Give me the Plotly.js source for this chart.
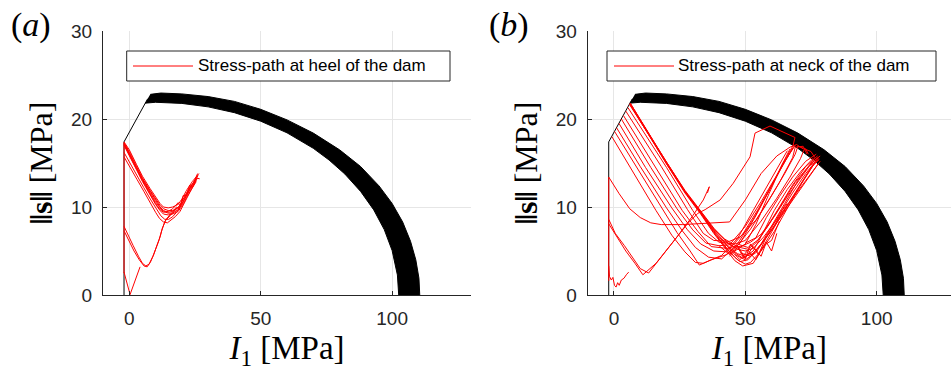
<!DOCTYPE html>
<html>
<head>
<meta charset="utf-8">
<script src="https://cdn.plot.ly/plotly-3.0.1.min.js"></script>
<style>
  html, body { margin: 0; padding: 0; background: #fff; }
  #chart { width: 951px; height: 376px; }
</style>
</head>
<body>
<div id="chart"></div>
<script>
// ---- Yield surface family (cap band) ----
const capInnerX = [6.0, 10, 20, 30, 40, 50, 60, 70, 76, 82, 88, 93, 97, 100, 102, 102.5];
const capInnerY = [21.8, 21.9, 21.77, 21.38, 20.72, 19.75, 18.43, 16.67, 15.34, 13.75, 11.77, 9.67, 7.43, 5.05, 2.28, 0];
const capOuterX = [8.0, 12, 20, 30, 40, 50, 60, 70, 80, 88, 95, 100, 104, 107, 109, 110.2, 110.5];
const capOuterY = [22.8, 22.95, 22.85, 22.55, 22.0, 21.1, 19.9, 18.4, 16.5, 14.6, 12.4, 10.4, 8.3, 6.1, 4.0, 1.9, 0];

// tension cut-off and cone segment
const coneX = [-2, -2, 7.0];
const coneY = [0, 17.4, 22.3];

// ---- Stress path at the heel (segments separated by null) ----
const heelX = [
  -2, -2, null,
  -2, 0.3, 4.1, null,
  -2, -0.2, 1.5, 3.5, 5.0, 6.3, 7.5, 9, 10.2, 11.4, 12.3, 13.6, 15.5, 18, null,
  -2, -0.2, 1.8, 3.8, 5.6, 6.8, 8.0, 9.3, 10.6, 11.8, 12.6, 14, 16, 19, null,
  -2, 0, 3, 5.5, 8, 10, 11.5, 13, 14.5, 16, 17.5, 19.3, 21, 22, 24, 25.5, null,
  -2, 0, 3, 5.5, 8, 10, 12, 13.5, 15, 16.5, 18, 20, 22, 24, 26, null,
  -2, 0, 2.8, 5, 7.9, 10, 11.7, 13, 14.8, 16.5, 18.6, 20, 21.8, 24, 26.2, null,
  -2, 0, 2.8, 5, 7.9, 10, 11.7, 13, 14.8, 16.5, 18.6, 20, 21.8, 24, 26, null,
  -2, 0, 2.8, 5, 7.9, 10, 11.7, 13, 14.8, 16.5, 18.6, 20, 21.8, 24, 26.5, null,
  -2, 0, 2.8, 5, 7.9, 10, 11.7, 13, 14.8, 16.5, 18.6, 19.5, 20.5, 21.8, 23, 24, 25.5, 26.8, null,
  -2, 0, 2.8, 5, 7.9, 10, 11.7, 13, 14.8, 16.5, 18, 19, 20, 21, 22.5, 24.5, 26, null,
  -2, 0, 2.8, 5, 7.9, 10, 11.7, 13, 14.8, 16.5, 18.6, 20, 21.8, 24, 25.5
];
const heelY = [
  2.5, 17.3, null,
  2.6, 0.05, 3.2, null,
  7.8, 6.6, 5.6, 4.4, 3.6, 3.3, 3.5, 4.4, 5.3, 6.3, 7.3, 8.4, 9.0, 9.8, null,
  7.3, 6.2, 5.0, 4.0, 3.3, 3.2, 3.7, 4.6, 5.6, 6.7, 7.6, 8.6, 9.3, 10.1, null,
  15.7, 14.6, 13.1, 11.8, 10.4, 9.4, 8.7, 8.3, 8.2, 8.5, 8.9, 9.5, 10.5, 11.2, 12.3, 13.1, null,
  16.2, 15.1, 13.6, 12.2, 10.9, 9.9, 9.0, 8.6, 8.6, 8.9, 9.4, 10.3, 11.5, 12.6, 13.5, null,
  17.3, 16.3, 14.6, 13.3, 11.9, 10.9, 10.2, 9.8, 9.6, 9.6, 9.9, 10.6, 11.6, 12.6, 13.6, null,
  17.2, 16.1, 14.4, 13.1, 11.6, 10.6, 9.9, 9.5, 9.3, 9.3, 9.7, 10.4, 11.4, 12.4, 13.3, null,
  17.4, 16.5, 14.8, 13.5, 12.1, 11.1, 10.4, 10.0, 9.9, 10.0, 10.3, 10.9, 11.9, 12.9, 13.8, null,
  17.1, 16.0, 14.3, 13.0, 11.5, 10.4, 9.7, 9.4, 9.5, 9.8, 10.5, 10.0, 11.3, 11.3, 12.5, 12.2, 13.3, 13.2, null,
  17.3, 16.2, 14.5, 13.2, 11.8, 10.8, 10.0, 9.6, 9.4, 9.5, 10.0, 9.8, 10.8, 11.0, 12.0, 12.8, 13.8, null,
  17.0, 15.9, 14.2, 12.9, 11.4, 10.3, 9.6, 9.2, 9.1, 9.2, 9.5, 10.1, 11.1, 12.2, 12.9
];

// ---- Stress path at the neck: early low-stress cycles ----
const neckLowX = [
  -2, -2, null,
  -2, -1.7, -1.0, -0.4, 0.2, 0.8, 1.4, 2.0, 2.8, 3.8, 4.7, 5.6, null,
  -2, 2, 6, 10, 14, 18, 26, 34, 44, 50, 56, 62, 67, 69.5, 72, null,
  -2, 0.5, 4, 7.5, 10, 13.2, 18, 24, 30, 34, 36.3, 35.6, null,
  -2, 1, 4.5, 8, 11, 16, 22, 28, 32, 34.7, 40.4, 45.4, 51.8, 53.7, 59.4, 68.9, 68.2, 64, 59, 54, 50, 46
];
const neckLowY = [
  1.6, 13.4, null,
  3.3, 2.1, 1.7, 2.0, 1.1, 0.9, 1.4, 1.1, 1.7, 1.9, 2.3, 2.6, null,
  13.4, 11.5, 9.8, 8.8, 8.2, 8.0, 8.0, 8.1, 8.3, 10.8, 13.8, 15.8, 16.8, 17.1, 16.6, null,
  8.6, 7.0, 5.6, 4.1, 3.0, 2.5, 4.3, 6.6, 9.0, 10.8, 12.3, 11.6, null,
  8.1, 6.6, 5.0, 3.6, 2.3, 3.6, 5.8, 8.1, 9.3, 9.7, 10.8, 12.7, 15.7, 18.4, 19.2, 17.9, 17.0, 14.8, 11.5, 8.0, 5.8, 5.0
];

// ---- Stress path at the neck: cycles starting on the cone ----
const neckFanX = [
  5.3, 20, 30, 36, 40, 46, 50, 56, 62, 67, 71, 72.5, 75, 76.5, null,
  4.5, 18, 28, 34, 38, 44, 48, 54, 60, 65, 69, 70, 73, 74, null,
  3.6, 16, 26, 32, 37, 43, 47, 52, 58, 63, 68, 69, 72, 73.5, null,
  2.8, 14, 24, 30, 35, 40, 44, 50, 56, 62, 67, 68.5, null,
  1.9, 12, 22, 28, 33, 38, 43, 49, 55, 61, 66, 68, null,
  1.0, 10, 20, 26, 31, 36, 41, 47, 53, 59, 64, 67, null,
  0.2, 9, 18, 24, 29, 32.5, 37, 43, 48, 54, 60, 65, 69, null,
  -0.8, 8, 16, 22, 27, 31, 34, 41, 47, 53, 59, 63, 66
];
const neckFanY = [
  21.3, 14.5, 9.6, 7.0, 6.0, 5.8, 6.2, 8.4, 11.0, 13.4, 15.5, 16.6, 16.3, 15.6, null,
  20.9, 14.6, 9.7, 7.0, 6.2, 6.1, 6.6, 8.5, 11.3, 13.8, 16.0, 16.9, 16.6, 16.0, null,
  20.4, 14.4, 9.6, 7.2, 5.5, 5.3, 5.6, 7.5, 10.3, 12.8, 15.6, 16.8, 16.9, 16.0, null,
  20.0, 14.5, 9.8, 7.4, 5.9, 5.6, 5.7, 7.8, 10.6, 13.6, 16.0, 16.9, null,
  19.5, 14.5, 9.9, 7.4, 5.8, 5.0, 4.9, 6.9, 9.8, 13.0, 15.8, 16.7, null,
  19.0, 14.6, 9.9, 7.3, 5.4, 4.3, 4.1, 5.8, 8.6, 11.8, 14.8, 16.6, null,
  18.6, 14.3, 9.9, 7.1, 5.0, 3.4, 4.0, 4.6, 5.9, 9.0, 12.4, 15.2, 17.0, null,
  18.0, 13.6, 9.6, 6.8, 4.9, 3.7, 3.6, 4.5, 6.4, 9.6, 12.8, 14.8, 16.4
];

// ---- Stress path at the neck: repeated main cycles ----
const neckMainX = [
  6.2, 12, 20, 27, 33, 38, 43, 47, 50, 53, 57, 62, 67, 72, 76, 78.5, null,
  6.0, 12, 20, 27, 33, 38, 43, 47, 50, 53, 57, 62, 67, 72, 76, 78, null,
  6.1, 12, 20, 27, 33, 38, 42, 46, 49, 52, 56, 61, 66, 71, 75, 77.5, null,
  6.2, 12, 20, 27, 33, 38, 43, 46, 48, 51, 55, 60, 65, 70, 74, 77, null,
  6.1, 12, 20, 27, 33, 38, 43, 47, 50, 52, 56, 61, 66, 71, 75, 78, null,
  6.0, 12, 20, 27, 33, 38, 42, 45, 48, 51, 54, 58, 63, 68, 73, 77.5, null,
  6.1, 12, 20, 27, 33, 38, 43, 46, 49, 53, 57, 62, 67, 72, 76, 78.2, null,
  40, 44, 47, 50, 53, 56, 58, 60, 62, null,
  42, 45, 48, 51, 54, 57, 60, 63, null,
  44, 47, 50, 52, 55, 58, 61, 64, 66, null,
  46, 50, 54, 58, 63, 68, 73, 77.8, null,
  47, 51, 55, 59, 64, 69, 74, 77, null,
  48, 52, 56, 60, 65, 70, 75, 78.5, null,
  45, 49, 53, 57, 61, 66, 71, 76, null,
  50, 54, 58, 63, 68, 73, 77
];
const neckMainY = [
  21.8, 19.0, 15.1, 11.9, 9.5, 7.6, 6.0, 5.2, 5.0, 5.3, 6.6, 8.6, 10.7, 12.7, 14.3, 15.2, null,
  21.7, 18.8, 14.9, 11.7, 9.3, 7.3, 5.6, 4.7, 4.4, 4.7, 6.1, 8.2, 10.3, 12.4, 14.1, 15.0, null,
  21.7, 18.9, 15.0, 11.8, 9.4, 7.4, 6.1, 5.4, 5.6, 6.0, 6.9, 8.9, 11.2, 13.3, 14.9, 15.6, null,
  21.8, 18.9, 15.0, 11.8, 9.4, 7.2, 5.3, 4.3, 3.8, 4.0, 5.4, 7.4, 9.8, 12.2, 14.0, 15.3, null,
  21.8, 18.9, 15.0, 11.7, 9.3, 7.1, 5.2, 4.0, 3.5, 3.7, 5.0, 7.2, 9.8, 12.5, 14.4, 15.5, null,
  21.6, 18.8, 15.0, 11.8, 9.5, 7.5, 6.4, 5.8, 5.4, 5.2, 5.9, 7.6, 10.0, 12.5, 14.6, 15.8, null,
  21.7, 18.8, 14.9, 11.6, 9.2, 7.0, 5.0, 3.9, 3.3, 3.6, 5.6, 8.2, 10.6, 12.9, 14.8, 15.4, null,
  5.6, 4.6, 5.6, 4.2, 5.5, 4.4, 6.0, 5.0, 7.0, null,
  6.0, 4.9, 4.0, 5.1, 4.0, 5.6, 6.2, 8.4, null,
  4.4, 5.4, 4.1, 5.8, 4.6, 6.6, 7.8, 9.6, 10.4, null,
  4.6, 4.0, 4.8, 6.6, 9.2, 11.6, 13.8, 15.6, null,
  5.8, 5.4, 6.3, 8.0, 10.4, 12.8, 14.6, 15.2, null,
  4.8, 4.4, 5.8, 7.8, 10.4, 13.0, 15.0, 15.8, null,
  5.0, 4.2, 5.0, 7.2, 9.6, 12.0, 14.0, 15.6, null,
  5.9, 6.5, 8.8, 11.2, 13.4, 15.2, 16.0
];

const legendTextA = 'Stress-path at heel of the dam';
const legendTextB = 'Stress-path at neck of the dam';

const RED = 'rgb(255,0,0)';
const W = 951, H = 376;

function envelope(xa, ya) {
  return [
    { x: capInnerX, y: capInnerY, xaxis: xa, yaxis: ya, type: 'scatter', mode: 'lines',
      line: { color: '#000', width: 1 }, showlegend: false, hoverinfo: 'skip' },
    { x: capOuterX, y: capOuterY, xaxis: xa, yaxis: ya, type: 'scatter', mode: 'lines',
      line: { color: '#000', width: 1 }, fill: 'tonexty', fillcolor: '#000',
      showlegend: false, hoverinfo: 'skip' },
    { x: coneX, y: coneY, xaxis: xa, yaxis: ya, type: 'scatter', mode: 'lines',
      line: { color: '#000', width: 1 }, showlegend: false, hoverinfo: 'skip' }
  ];
}

function redPath(x, y, xa, ya, name) {
  return { x: x, y: y, xaxis: xa, yaxis: ya, type: 'scatter', mode: 'lines', name: name,
    connectgaps: false, line: { color: RED, width: 1 }, showlegend: false };
}

const data = [].concat(
  envelope('x', 'y'),
  [redPath(heelX, heelY, 'x', 'y', legendTextA)],
  envelope('x2', 'y2'),
  [redPath(neckLowX, neckLowY, 'x2', 'y2', legendTextB),
   redPath(neckFanX, neckFanY, 'x2', 'y2', legendTextB),
   redPath(neckMainX, neckMainY, 'x2', 'y2', legendTextB)]
);

const tickFont = { family: 'Liberation Sans, Arial, sans-serif', size: 19, color: '#262626' };
const serif = 'Liberation Serif, Times New Roman, serif';

function xAxis(domain, range, anchor) {
  return {
    domain: domain, range: range, anchor: anchor,
    tickvals: [0, 50, 100], ticktext: ['0', '50', '100'],
    ticks: 'inside', ticklen: 4, tickcolor: '#262626', tickwidth: 1,
    showline: true, linecolor: '#262626', linewidth: 1,
    showgrid: true, gridcolor: '#e6e6e6', gridwidth: 1, zeroline: false,
    tickfont: tickFont, ticklabelstandoff: 6,
    title: { text: '<i>I</i><sub>1</sub> [MPa]', font: { family: serif, size: 33, color: '#000' }, standoff: 8 }
  };
}
function yAxis(anchor) {
  const yDom = [1 - 295 / H, 1 - 31 / H];
  return {
    domain: yDom, range: [0, 30], anchor: anchor,
    tickvals: [0, 10, 20, 30], ticktext: ['0', '10', '20', '30'],
    ticks: 'inside', ticklen: 4, tickcolor: '#262626', tickwidth: 1,
    showline: true, linecolor: '#262626', linewidth: 1,
    showgrid: true, gridcolor: '#e6e6e6', gridwidth: 1, zeroline: false,
    tickfont: tickFont, ticklabelstandoff: 6,
    title: { text: '<b>‖s‖</b> [MPa]', font: { family: serif, size: 32, color: '#000' }, standoff: 8 }
  };
}

// legend boxes drawn in paper space
function legendBox(x0, x1, lx0, lx1, tx, text) {
  const yTop = 1 - 51 / H, yBot = 1 - 81 / H, yMid = 1 - 66 / H;
  return {
    shapes: [
      { type: 'rect', xref: 'paper', yref: 'paper', x0: x0 / W, x1: x1 / W, y0: yBot, y1: yTop,
        line: { color: '#262626', width: 1 }, fillcolor: '#fff' },
      { type: 'line', xref: 'paper', yref: 'paper', x0: lx0 / W, x1: lx1 / W, y0: yMid, y1: yMid,
        line: { color: RED, width: 1 } }
    ],
    annotation: { xref: 'paper', yref: 'paper', x: tx / W, y: yMid, xanchor: 'left', yanchor: 'middle',
      text: text, showarrow: false, font: { family: 'Liberation Sans, Arial, sans-serif', size: 17, color: '#000' } }
  };
}
const legA = legendBox(126.7, 450, 133, 193, 196, legendTextA);
const legB = legendBox(607, 936, 614, 674, 676, legendTextB);

const layout = {
  width: W, height: H,
  margin: { l: 0, r: 0, t: 0, b: 0 },
  paper_bgcolor: '#fff', plot_bgcolor: '#fff',
  showlegend: false,
  xaxis: xAxis([103 / W, 471 / W], [-10, 130], 'y'),
  yaxis: yAxis('x'),
  xaxis2: xAxis([587.7 / W, 1], [-10, 128.3], 'y2'),
  yaxis2: yAxis('x2'),
  shapes: legA.shapes.concat(legB.shapes),
  annotations: [
    legA.annotation, legB.annotation,
    { xref: 'paper', yref: 'paper', x: 9 / W, y: 1 - 25 / H, xanchor: 'left', yanchor: 'middle',
      text: '(<i>a</i>)', showarrow: false, font: { family: serif, size: 34, color: '#000' } },
    { xref: 'paper', yref: 'paper', x: 487 / W, y: 1 - 25 / H, xanchor: 'left', yanchor: 'middle',
      text: '(<i>b</i>)', showarrow: false, font: { family: serif, size: 34, color: '#000' } }
  ]
};

Plotly.newPlot('chart', data, layout, { displayModeBar: false, staticPlot: true });
</script>
</body>
</html>
